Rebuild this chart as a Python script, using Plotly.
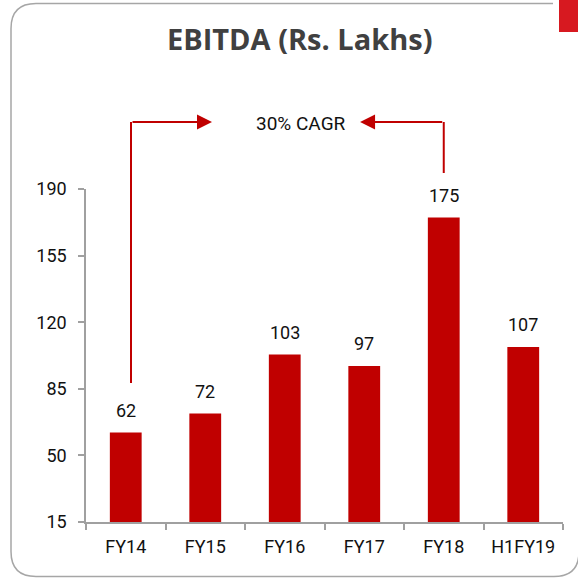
import plotly.graph_objects as go

categories = ["FY14", "FY15", "FY16", "FY17", "FY18", "H1FY19"]
ebitda = [62, 72, 103, 97, 175, 107]
y_ticks = [15, 50, 85, 120, 155, 190]
title_text = "EBITDA (Rs. Lakhs)"
cagr_text = "30% CAGR"

W, H = 578, 579
ML, MR, MT, MB = 86, 15, 189, 57
PW = W - ML - MR
PH = H - MT - MB


def px(xpix):
    return (xpix - ML) / PW


def py(ypix):
    return (H - MB - ypix) / PH


BAR = "#C00000"
AXIS = "#A0A0A0"
FONT = "Roboto"

fig = go.Figure()
fig.add_trace(go.Bar(x=categories, y=ebitda, marker=dict(color=BAR, line=dict(width=0)),
                     width=0.4, hoverinfo="skip"))

annotations = []
for c, v in zip(categories, ebitda):
    annotations.append(dict(x=c, y=v, xref="x", yref="y", text=str(v), showarrow=False,
                            yanchor="bottom", yshift=10,
                            font=dict(family=FONT, size=18, color="#111111")))

# title
annotations.append(dict(x=px(299.5), y=py(39), xref="paper", yref="paper", text="<b>" + title_text + "</b>",
                        showarrow=False, font=dict(family="Open Sans", size=29, color="#404040"),
                        xanchor="center", yanchor="middle"))
# CAGR label
annotations.append(dict(x=px(300.5), y=py(123), xref="paper", yref="paper", text=cagr_text,
                        showarrow=False, font=dict(family=FONT, size=19, color="#111111"),
                        xanchor="center", yanchor="middle"))

y_arrow = py(122)
left_x, left_tip = 0.066, 1.085
right_x, right_tip = 4.0, 2.947
for tail, tip in [(left_x, left_tip), (right_x, right_tip)]:
    annotations.append(dict(x=tip, y=y_arrow, xref="x", yref="paper", ax=tail, ay=0,
                            axref="x", ayref="pixel", text="", showarrow=True,
                            arrowhead=2, arrowsize=1.5, arrowwidth=2, arrowcolor=BAR, standoff=0,
                            startstandoff=0))

shapes = [
    dict(type="line", xref="x", yref="paper", x0=left_x, x1=left_x, y0=py(383), y1=y_arrow,
         line=dict(color=BAR, width=2)),
    dict(type="line", xref="x", yref="paper", x0=right_x, x1=right_x, y0=py(173), y1=y_arrow,
         line=dict(color=BAR, width=2)),
]

# rounded border (open at the top-right, right edge off-canvas)
L, T, R, B, r = px(11), py(3.5), px(579), py(576.5), 25
TE = px(553)
rx, ry = r / PW, r / PH
path = (f"M{TE},{T} L{L + rx},{T} Q{L},{T} {L},{T - ry} L{L},{B + ry} Q{L},{B} {L + rx},{B} "
        f"L{R - rx},{B} Q{R},{B} {R},{B + ry} L{R},{T - ry}")
shapes.append(dict(type="path", xref="paper", yref="paper", path=path,
                   line=dict(color="#A6A6A6", width=1.5), layer="below"))
# red corner block
shapes.append(dict(type="rect", xref="paper", yref="paper", x0=px(559), x1=px(580), y0=py(32), y1=py(-2),
                   fillcolor="#D71920", line=dict(width=0)))

fig.update_layout(
    width=W, height=H, margin=dict(l=ML, r=MR, t=MT, b=MB),
    paper_bgcolor="white", plot_bgcolor="white", showlegend=False,
    annotations=annotations, shapes=shapes, bargap=0.6,
    font=dict(family=FONT, size=18, color="#111111"),
    xaxis=dict(showline=True, linecolor=AXIS, linewidth=1.5, ticks="outside", tickson="boundaries",
               ticklen=6, tickcolor=AXIS, tickwidth=1.5, showgrid=False, zeroline=False,
               ticklabelstandoff=8, tickfont=dict(family=FONT, size=18, color="#111111")),
    yaxis=dict(range=[15, 190], tickvals=y_ticks, showline=True, linecolor=AXIS, linewidth=1.5,
               ticks="outside", ticklen=6, tickcolor=AXIS, tickwidth=1.5, showgrid=False,
               zeroline=False, ticklabelstandoff=8, tickfont=dict(family=FONT, size=18, color="#111111")),
)

fig.write_html("out.html", config={"displayModeBar": False},
               post_script="document.body.style.margin='0';document.body.style.overflow='hidden';")
